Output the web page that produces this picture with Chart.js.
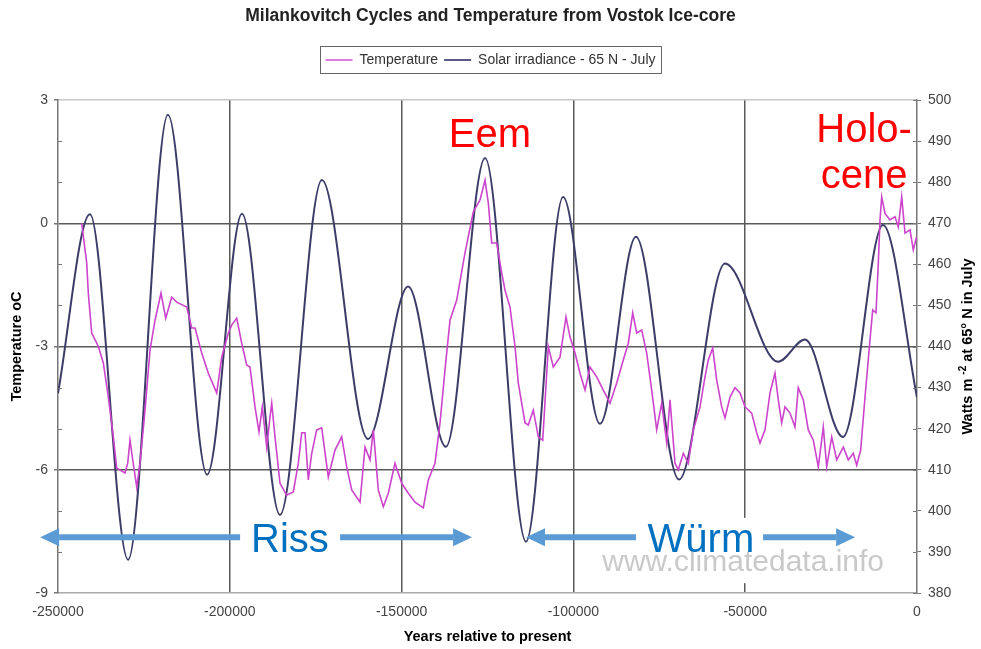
<!DOCTYPE html>
<html>
<head>
<meta charset="utf-8">
<title>Milankovitch Cycles and Temperature from Vostok Ice-core</title>
<script src="https://cdn.jsdelivr.net/npm/chart.js@4.4.1/dist/chart.umd.min.js"></script>
<style>
  html, body { margin: 0; padding: 0; background: #fff; }
</style>
</head>
<body>
<canvas id="myChart" width="981" height="649"></canvas>
<script>
// x axis: years relative to present
const yearTicks = [-250000, -200000, -150000, -100000, -50000, 0];
const tempTicks = [-9, -6, -3, 0, 3];
const wattTicks = [380, 390, 400, 410, 420, 430, 440, 450, 460, 470, 480, 490, 500];

// Vostok temperature (deg C)
const tempYears = [
  -243100, -241640, -241180, -240190, -238260, -236810, -235350, -233900, -232910, -230500,
  -229710, -229040, -228370, -227090, -226130, -224670, -223220, -221760, -220020, -218650,
  -216910, -215450, -212540, -211080, -210120, -208170, -206250, -203810, -202350, -200430,
  -199450, -197990, -196530, -195080, -194120, -192660, -191500, -190540, -189260, -188300,
  -187800, -186840, -185390, -183440, -181520, -180060, -179070, -178110, -177150, -176160,
  -174710, -173250, -171330, -169380, -167430, -165970, -164520, -162100, -160650, -159190,
  -158230, -156780, -155320, -153870, -151920, -149970, -148040, -146100, -143680, -142230,
  -140280, -138820, -137370, -135910, -133960, -131550, -129130, -127180, -125720, -124760,
  -123780, -122320, -120870, -119900, -118450, -116990, -116030, -114080, -113120, -111670,
  -110210, -108930, -107300, -105850, -103900, -102150, -100990, -99530, -98080, -96620,
  -95170, -93220, -91300, -89350, -87400, -85480, -84020, -82740, -81580, -80120,
  -78670, -77210, -75760, -74300, -72840, -71880, -70430, -69470, -68010, -66560,
  -65100, -63150, -61700, -60740, -59460, -58290, -56840, -55880, -54420, -52970,
  -51510, -50060, -48110, -46650, -45690, -44240, -42780, -41330, -40370, -39380,
  -38420, -36960, -35510, -34550, -33090, -31640, -30180, -28720, -27270, -26280,
  -24820, -23370, -21450, -19990, -18540, -17550, -16390, -15130, -13680, -12890,
  -11930, -11260, -10770, -10270, -9310, -7860, -6400, -5440, -4450, -3490,
  -2040, -1080, -100
];
const tempValues = [
  0.0, -0.97, -1.70, -2.67, -3.0, -3.4, -4.23, -5.2, -5.96, -6.08,
  -5.84, -5.28, -5.69, -6.42, -5.84, -4.55, -3.09, -2.36, -1.70, -2.31,
  -1.80, -1.92, -2.04, -2.55, -2.55, -3.16, -3.65, -4.13, -3.26, -2.67,
  -2.48, -2.31, -2.92, -3.45, -3.5, -4.47, -5.08, -4.47, -5.45, -4.72,
  -4.38, -5.2, -6.33, -6.62, -6.54, -5.84, -5.1, -5.1, -6.25, -5.6,
  -5.03, -4.98, -6.18, -5.52, -5.2, -5.93, -6.49, -6.79, -5.45, -5.76,
  -5.03, -6.49, -6.9, -6.57, -5.84, -6.33, -6.57, -6.79, -6.93, -6.25,
  -5.84, -4.86, -3.57, -2.36, -1.87, -0.72, 0.28, 0.57, 1.05, 0.49,
  -0.48, -0.48, -1.21, -1.63, -2.04, -3.0, -3.89, -4.86, -4.91, -4.55,
  -5.2, -5.28, -3.0, -3.5, -3.26, -2.28, -2.77, -3.16, -3.65, -4.06,
  -3.5, -3.74, -4.06, -4.38, -3.89, -3.33, -2.92, -2.18, -2.67, -2.6,
  -3.16, -4.06, -5.03, -4.38, -5.35, -4.3, -5.84, -6.0, -5.6, -5.84,
  -5.03, -4.47, -3.74, -3.33, -3.04, -3.82, -4.47, -4.74, -4.23, -4.0,
  -4.13, -4.47, -4.62, -5.1, -5.35, -5.03, -4.13, -3.65, -4.3, -4.86,
  -4.47, -4.62, -4.96, -4.0, -4.3, -5.03, -5.28, -5.93, -4.96, -5.93,
  -5.2, -5.76, -5.45, -5.76, -5.6, -5.89, -5.52, -4.23, -2.84, -2.11,
  -2.18, -0.97, 0.08, 0.64, 0.24, 0.08, 0.16, -0.09, 0.64, -0.24,
  -0.16, -0.65, -0.33
];

// July solar irradiance at 65 N (W/m2), turning points
const solarYears = [
  -250000, -240700, -229600, -218000, -206600, -196450, -185400, -173200, -159800, -148100,
  -137100, -125700, -113800, -103000, -92260, -81800, -69270, -55880, -40450, -32600,
  -21540, -9900, 0
];
const solarValues = [
  428.6, 472.2, 388.1, 496.4, 408.8, 472.3, 399.0, 480.5, 417.5, 454.6,
  415.6, 485.9, 392.5, 476.4, 421.2, 466.7, 407.6, 460.2, 436.3, 441.7,
  418.0, 469.6, 427.6
];

const FONT = '"Liberation Sans", Arial, sans-serif';
Chart.defaults.font.family = FONT;

// text and arrows laid on top of the plot (data units)
const notes = [
  {text: 'Eem', x: -124300, y: 1.86, color: '#ff0000'},
  {text: 'Holo-', x: -15400, y: 1.98, color: '#ff0000'},
  {text: 'cene', x: -15400, y: 0.86, color: '#ff0000'},
  {text: 'Riss', x: -182500, y: -8.0, color: '#0070c0'},
  {text: 'Würm', x: -62900, y: -8.0, color: '#0070c0'}
];
const arrows = [[-197000, -255200], [-167900, -129500], [-81800, -113800], [-44800, -18000]];
const arrowLevel = -7.64;

const overlay = {
  id: 'overlay',
  beforeInit(chart) {
    if (!chart.legend) return;
    const fit = chart.legend.fit;
    chart.legend.fit = function () {
      fit.call(this);
      this.height += 23;
    };
  },
  afterDraw(chart) {
    const {ctx, chartArea, scales: {x, y, y2}} = chart;
    const px = v => x.getPixelForValue(v);
    const py = v => y.getPixelForValue(v);
    ctx.save();

    // frame round the legend
    const hb = chart.legend.legendHitBoxes;
    if (hb && hb.length) {
      const first = hb[0], last = hb[hb.length - 1];
      ctx.strokeStyle = '#666';
      ctx.lineWidth = 1;
      ctx.strokeRect(Math.round(first.left - 6) + 0.5, Math.round(first.top - 7) + 0.5,
        Math.round(last.left + last.width - first.left + 11), 27);
    }

    // minor ticks inside the left axis, crossing ticks on the right one
    ctx.strokeStyle = '#777';
    ctx.lineWidth = 1;
    for (let v = -8; v < 3; v++) {
      if (v % 3 === 0) continue;
      const yy = Math.round(py(v)) + 0.5;
      ctx.beginPath(); ctx.moveTo(chartArea.left, yy); ctx.lineTo(chartArea.left + 4, yy); ctx.stroke();
    }
    wattTicks.forEach(v => {
      const yy = Math.round(y2.getPixelForValue(v)) + 0.5;
      ctx.beginPath(); ctx.moveTo(chartArea.right - 4, yy); ctx.lineTo(chartArea.right, yy); ctx.stroke();
    });

    // right axis title, reading upwards
    ctx.save();
    ctx.translate(y2.right - 13, (chartArea.top + chartArea.bottom) / 2);
    ctx.rotate(-Math.PI / 2);
    ctx.fillStyle = '#000';
    ctx.textBaseline = 'middle';
    ctx.textAlign = 'left';
    const big = 'bold 14.5px ' + FONT, small = 'bold 10px ' + FONT;
    const p1 = 'Watts m ', sup = '-2', p2 = ' at 65° N in July';
    ctx.font = big;
    const w1 = ctx.measureText(p1).width, w3 = ctx.measureText(p2).width;
    ctx.font = small;
    const w2 = ctx.measureText(sup).width;
    let sx = -(w1 + w2 + w3) / 2;
    ctx.font = big; ctx.fillText(p1, sx, 0);
    ctx.font = small; ctx.fillText(sup, sx + w1, -5);
    ctx.font = big; ctx.fillText(p2, sx + w1 + w2, 0);
    ctx.restore();

    // pasted label block hides the grid line behind it
    ctx.fillStyle = '#fff';
    ctx.fillRect(px(-92260), py(-7.17), px(-9000) - px(-92260), py(-8.76) - py(-7.17));

    ctx.fillStyle = 'rgba(195,195,195,0.9)';
    ctx.font = '30px ' + FONT;
    ctx.textAlign = 'center';
    ctx.textBaseline = 'alphabetic';
    ctx.fillText('www.climatedata.info', px(-50600), py(-8.47));

    ctx.font = '40px ' + FONT;
    notes.forEach(n => {
      ctx.fillStyle = n.color;
      ctx.fillText(n.text, px(n.x), py(n.y));
    });

    ctx.strokeStyle = ctx.fillStyle = '#5b9bd5';
    ctx.lineWidth = 6;
    const ay = py(arrowLevel);
    arrows.forEach(([from, to]) => {
      const a = px(from), b = px(to);
      const dir = Math.sign(b - a), head = 19;
      ctx.beginPath(); ctx.moveTo(a, ay); ctx.lineTo(b - dir * head, ay); ctx.stroke();
      ctx.beginPath();
      ctx.moveTo(b, ay);
      ctx.lineTo(b - dir * head, ay - 9);
      ctx.lineTo(b - dir * head, ay + 9);
      ctx.closePath();
      ctx.fill();
    });
    ctx.restore();
  }
};

const ctx = document.getElementById('myChart').getContext('2d');
const myChart = new Chart(ctx, {
  type: 'line',
  data: {
    datasets: [{
      label: 'Temperature',
      data: tempYears.map((yr, i) => ({x: yr, y: tempValues[i]})),
      yAxisID: 'y',
      borderColor: '#cc44cc',
      backgroundColor: '#e07ae0',
      borderWidth: 1.6,
      pointRadius: 0,
      tension: 0
    }, {
      label: 'Solar irradiance - 65 N - July',
      data: solarYears.map((yr, i) => ({x: yr, y: solarValues[i]})),
      yAxisID: 'y2',
      borderColor: '#3c3c68',
      backgroundColor: '#5a5a88',
      borderWidth: 2,
      pointRadius: 0,
      cubicInterpolationMode: 'monotone'
    }]
  },
  options: {
    responsive: false,
    animation: false,
    devicePixelRatio: 1,
    layout: { padding: 0 },
    plugins: {
      title: {
        display: true,
        text: 'Milankovitch Cycles and Temperature from Vostok Ice-core',
        color: '#222',
        font: { size: 17.5, weight: 'bold' },
        padding: { top: 6, bottom: 20 }
      },
      legend: {
        display: true,
        labels: {
          color: '#333',
          font: { size: 14 },
          boxWidth: 27,
          boxHeight: 2,
          padding: 6,
          generateLabels: chart => Chart.defaults.plugins.legend.labels.generateLabels(chart)
            .map(l => Object.assign(l, {lineWidth: 0}))
        }
      },
      tooltip: { enabled: false }
    },
    scales: {
      x: {
        type: 'linear',
        min: -250000,
        max: 0,
        afterBuildTicks: s => { s.ticks = yearTicks.map(v => ({value: v})); },
        afterFit: s => { s.height = 56; },
        ticks: {
          color: '#444',
          font: { size: 14 },
          padding: 11,
          maxRotation: 0,
          callback: v => String(v)
        },
        grid: {
          drawTicks: false,
          lineWidth: 1.5,
          color: c => (c.tick && (c.tick.value === -250000 || c.tick.value === 0)) ? 'rgba(0,0,0,0)' : '#5a5a5a'
        },
        border: { color: '#aaa', width: 1.5 },
        title: {
          display: true,
          text: 'Years relative to present',
          color: '#000',
          font: { size: 14.5, weight: 'bold' },
          padding: { top: 2, bottom: 3 }
        }
      },
      y: {
        type: 'linear',
        position: 'left',
        min: -9,
        max: 3,
        afterBuildTicks: s => { s.ticks = tempTicks.map(v => ({value: v})); },
        afterFit: s => { s.width = 58; },
        ticks: {
          color: '#444',
          font: { size: 14 },
          padding: 6,
          callback: v => String(v)
        },
        grid: {
          tickLength: 4,
          lineWidth: 1.5,
          tickColor: '#777',
          color: c => {
            const v = c.tick ? c.tick.value : null;
            if (v === 3) return '#c8c8c8';
            if (v === -9) return 'rgba(0,0,0,0)';
            return '#5a5a5a';
          }
        },
        border: { color: '#777', width: 1.5 },
        title: {
          display: true,
          text: 'Temperature oC',
          color: '#000',
          font: { size: 14.5, weight: 'bold' },
          padding: { top: 8, bottom: 0 }
        }
      },
      y2: {
        type: 'linear',
        position: 'right',
        min: 380,
        max: 500,
        afterBuildTicks: s => { s.ticks = wattTicks.map(v => ({value: v})); },
        afterFit: s => { s.width = 64; },
        ticks: {
          color: '#444',
          font: { size: 14 },
          padding: 7,
          callback: v => String(v)
        },
        grid: {
          drawOnChartArea: false,
          tickLength: 4,
          tickColor: '#777'
        },
        border: { color: '#777', width: 1.5 }
      }
    }
  },
  plugins: [overlay]
});
</script>
</body>
</html>
